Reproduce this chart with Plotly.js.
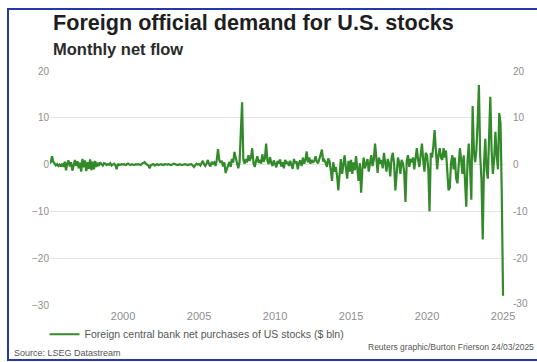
<!DOCTYPE html>
<html><head><meta charset="utf-8">
<script src="https://cdn.plot.ly/plotly-3.0.1.min.js"></script>
<style>
html,body{margin:0;padding:0;background:#fff;overflow:hidden;}
#chart{width:537px;height:362px;}
#frame{position:absolute;left:7px;top:8px;width:540px;height:349px;border:2px solid #2438a8;border-right:none;pointer-events:none;}
</style>
</head><body><div id="chart"></div><div id="frame"></div>
<script>
// Monthly net flow, $ bln (series starts March 1995)
const startYear = 1995, startMonth = 3;
const flow1995 = [0.3, 0.5, 1.8, 0.6, 0.2, -0.2, 0.1, -0.3, 0.0, -0.4];
const flow1996 = [0.2, -0.5, 0.6, -1.2, 0.3, 0.9, -0.4, 0.5, -1.3, 0.2, 1.0, -0.3];
const flow1997 = [0.7, -0.8, 0.4, -1.5, 1.2, -0.6, 0.9, -1.4, 0.5, -0.9, 1.1, -1.2];
const flow1998 = [0.6, -1.0, 0.8, -0.5, 0.4, -0.3, 0.5, 0.1, -0.2, 0.3, 0.2, -0.1];
const flow1999 = [0.1, 0.0, 0.3, -0.2, 0.1, 0.2, -0.1, -1.0, 0.2, -0.1, 0.0, 0.1];
const flow2000 = [0.0, 0.1, -0.1, 0.0, 0.2, 0.0, -0.1, 0.1, 0.0, -0.1, 0.1, 0.0];
const flow2001 = [0.1, 0.0, -0.1, 0.2, 0.3, 0.5, 0.2, 0.0, -0.2, -0.8, -0.1, 0.0];
const flow2002 = [0.1, -0.2, 0.0, 0.1, -0.1, 0.0, 0.1, 0.0, -0.1, 0.1, 0.0, 0.0];
const flow2003 = [0.1, 0.0, -0.1, 0.0, 0.2, 0.1, 0.0, -0.1, 0.0, 0.1, -0.1, 0.0];
const flow2004 = [0.0, 0.1, 0.0, -0.1, 0.0, 0.0, 0.1, -0.2, -0.5, -0.1, 0.2, 0.0];
const flow2005 = [0.1, -0.2, 0.3, 0.8, 0.1, -0.3, 0.2, 1.0, 0.0, -0.4, 0.6, 0.2];
const flow2006 = [0.5, -0.3, 0.9, 3.3, 1.0, 0.4, 0.8, -0.4, 0.5, -1.8, -0.9, -0.2];
const flow2007 = [0.6, -0.5, 1.2, 0.4, 2.7, 1.5, 0.3, -0.8, 0.5, 6.0, 13.3, 1.0];
const flow2008 = [0.2, 1.2, 0.5, 2.0, 0.8, 1.5, 3.5, 0.3, -0.5, 0.8, 1.8, 0.4];
const flow2009 = [1.0, 0.2, 2.2, 0.6, 1.3, 4.5, 0.8, 0.1, 1.6, 0.4, -0.3, 0.9];
const flow2010 = [0.3, -0.6, 0.8, 0.2, 1.1, -0.4, 0.5, -0.8, 1.0, 0.2, 0.6, -0.3];
const flow2011 = [0.8, 0.1, -0.9, 1.2, 0.3, 0.7, -1.0, 0.4, 0.9, -0.3, 1.5, 0.2];
const flow2012 = [1.0, 2.8, 0.5, 1.5, 0.2, 1.0, 0.4, 0.8, 1.8, 0.6, 0.3, 1.2];
const flow2013 = [2.2, 3.2, 0.7, 1.0, 0.4, -0.5, 1.3, 0.8, -1.2, -3.5, 0.5, -1.5];
const flow2014 = [-0.5, -2.5, -5.5, -1.0, 1.2, -2.0, 0.6, 2.0, -0.8, -3.0, 0.8, -1.5];
const flow2015 = [1.0, -2.0, 0.5, -1.2, 1.8, -0.5, -3.5, 0.3, -6.0, -1.0, 1.5, -0.8];
const flow2016 = [0.5, 1.2, -1.5, 0.8, 2.0, -0.3, 1.0, 4.5, 0.5, -1.8, 1.5, 0.2];
const flow2017 = [1.0, -0.8, 2.5, 0.6, -1.5, 1.2, 0.3, -2.5, 1.5, 2.5, 0.2, -5.5];
const flow2018 = [-1.0, 1.5, 0.5, -2.0, 1.0, 0.3, -1.5, -8.0, 0.8, 2.0, -0.5, 1.2];
const flow2019 = [0.5, 1.5, -1.0, 0.8, 3.5, 1.0, -0.5, 2.0, 4.5, 1.0, -1.5, 2.5];
const flow2020 = [2.0, -1.0, -10.0, 2.5, 1.5, 4.0, 7.4, 3.0, -1.0, 2.0, 3.5, 1.5];
const flow2021 = [1.0, 3.5, 1.5, 3.0, -1.0, -5.5, -5.0, 0.5, 2.0, -1.0, 1.5, -3.0];
const flow2022 = [-4.0, 0.5, 3.5, 1.0, -2.0, 2.0, -4.5, -9.0, 1.0, 4.5, -1.0, -7.5];
const flow2023 = [12.5, 3.0, 0.5, 3.0, 9.0, 17.0, 2.0, -3.0, -16.0, 0.0, 5.5, -1.0];
const flow2024 = [-3.0, 5.0, 14.5, 3.0, -2.0, 1.0, 7.0, 2.0, -1.0, 11.0, 9.0, -6.0];
const flow2025 = [-28.0];

const flows = [].concat(flow1995, flow1996, flow1997, flow1998, flow1999, flow2000, flow2001,
  flow2002, flow2003, flow2004, flow2005, flow2006, flow2007, flow2008, flow2009, flow2010,
  flow2011, flow2012, flow2013, flow2014, flow2015, flow2016, flow2017, flow2018, flow2019,
  flow2020, flow2021, flow2022, flow2023, flow2024, flow2025);

const yearTicks = [2000, 2005, 2010, 2015, 2020, 2025];
const yTicks = [-30, -20, -10, 0, 10, 20];

const dates = flows.map((v, i) => {
  const m = startMonth - 1 + i;
  const y = startYear + Math.floor(m / 12);
  const mm = (m % 12) + 1;
  return y + '-' + String(mm).padStart(2, '0') + '-01';
});

const green = '#338a2a';
const FONT = 'Liberation Sans, Arial, sans-serif';
const tickFont = {family: FONT, size: 10, color: '#8e8e8e'};

const trace = {
  x: dates, y: flows, type: 'scatter', mode: 'lines',
  name: 'Foreign central bank net purchases of US stocks ($ bln)',
  line: {color: green, width: 2.2}
};

// right-hand duplicate tick labels
const rightLabels = yTicks.map(v => ({
  text: String(v), xref: 'paper', yref: 'y', x: 1, y: v, xanchor: 'left', yanchor: 'middle',
  xshift: 6, yshift: v === -30 ? 2 : 0, showarrow: false, font: tickFont
}));

const layout = {
  width: 537, height: 362,
  margin: {l: 50, r: 32, t: 71, b: 57},
  paper_bgcolor: '#fff', plot_bgcolor: '#fff',
  showlegend: true,
  legend: {x: -0.012, xanchor: 'left', y: -0.125, yanchor: 'middle', orientation: 'h',
    itemwidth: 30, font: {family: FONT, size: 10.5, color: '#555'}},
  xaxis: {
    type: 'date', range: ['1995-03-13', '2025-02-17'],
    tickvals: yearTicks.map(y => y + '-01-01'), ticktext: yearTicks.map(String),
    showgrid: false, zeroline: false, showline: false, ticks: '', ticklabelstandoff: 3,
    tickfont: {family: FONT, size: 11, color: '#8e8e8e'}
  },
  yaxis: {
    range: [-30, 20], tickvals: yTicks, showgrid: true, gridcolor: '#e4e4e4', gridwidth: 1,
    zeroline: false, showline: false, ticks: '', tickfont: tickFont
  },
  annotations: [
    {text: '<b>Foreign official demand for U.S. stocks</b>', xref: 'paper', yref: 'paper',
     x: 1/455, y: (305-22)/234, xanchor: 'left', yanchor: 'middle', showarrow: false,
     font: {family: FONT, size: 21.6, color: '#1e1e1e'}},
    {text: '<b>Monthly net flow</b>', xref: 'paper', yref: 'paper',
     x: 1/455, y: (305-49)/234, xanchor: 'left', yanchor: 'middle', showarrow: false,
     font: {family: FONT, size: 16.5, color: '#2a2a2a'}},
    {text: 'Source: LSEG Datastream', xref: 'paper', yref: 'paper',
     x: -38/455, y: (305-353)/234, xanchor: 'left', yanchor: 'middle', showarrow: false,
     font: {family: FONT, size: 9, color: '#555'}},
    {text: 'Reuters graphic/Burton Frierson 24/03/2025', xref: 'paper', yref: 'paper',
     x: 31/455 + 1, y: (305-347)/234, xanchor: 'right', yanchor: 'middle', showarrow: false,
     font: {family: FONT, size: 8.5, color: '#555'}}
  ].concat(rightLabels)
};

Plotly.newPlot('chart', [trace], layout, {staticPlot: true, displayModeBar: false});
</script></body></html>
